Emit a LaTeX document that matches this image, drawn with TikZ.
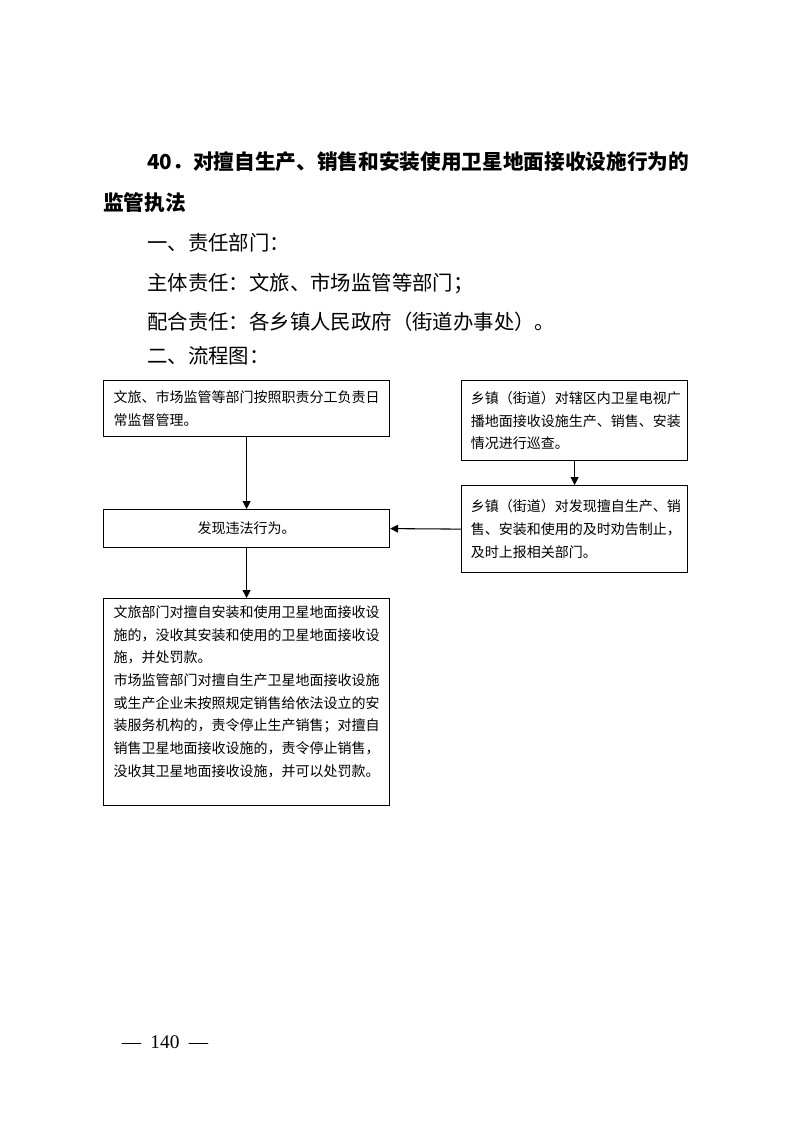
\documentclass[tikz,border=0pt]{standalone}
\usepackage{fontspec}
\setmainfont{Liberation Serif}
\newfontfamily\cjk{Noto Sans CJK SC}
\usetikzlibrary{positioning}
\usetikzlibrary{arrows.meta}

\tikzset{
  titleline/.style={anchor=west, inner sep=0pt, font=\cjk\bfseries\fontsize{15.5}{20}\selectfont},
  bodyline/.style={anchor=west, inner sep=0pt, font=\cjk\fontsize{15.3}{20}\selectfont},
  flowbox/.style={draw, line width=0.9pt, anchor=north west, align=left,
    inner xsep=7.5pt, text width=199.5pt, font=\cjk\fontsize{10.5}{17}\selectfont},
  sidebox/.style={flowbox, inner xsep=7pt, text width=155.5pt},
  flowarrow/.style={->, line width=0.8pt, >={Triangle[length=6pt,width=6pt]}}
}

\begin{document}
\begin{tikzpicture}[x=0.75pt, y=-0.75pt]

% page with its margins
\useasboundingbox (0,0) rectangle (793,1122);

% --- Heading ---
\node[titleline] (title1) at (147,162) {40．对擅自生产、销售和安装使用卫星地面接收设施行为的};
\node[titleline] (title2) at (103,203) {监管执法};

% --- Departments ---
\node[bodyline] (dept) at (147,243) {一、责任部门：};
\node[bodyline] (main) at (147,283) {主体责任：文旅、市场监管等部门；};
\node[bodyline] (assist) at (147,322) {配合责任：各乡镇人民政府（街道办事处）。};
\node[bodyline] (chart) at (147,356) {二、流程图：};

% --- Left column ---
\node[flowbox, minimum height=42pt] (daily) at (103,380)
  {文旅、市场监管等部门按照职责分工负责日\\常监督管理。};
\node[flowbox, minimum height=28.5pt, align=center] (find) at (103,509)
  {发现违法行为。};
\node[flowbox, minimum height=155.25pt] (penalty) at (103,598)
  {文旅部门对擅自安装和使用卫星地面接收设\\
   施的，没收其安装和使用的卫星地面接收设\\
   施，并处罚款。\\
   市场监管部门对擅自生产卫星地面接收设施\\
   或生产企业未按照规定销售给依法设立的安\\
   装服务机构的，责令停止生产销售；对擅自\\
   销售卫星地面接收设施的，责令停止销售，\\
   没收其卫星地面接收设施，并可以处罚款。\\
   \mbox{}};

% --- Right column ---
\node[sidebox, minimum height=60pt] (patrol) at (461,380)
  {乡镇（街道）对辖区内卫星电视广\\播地面接收设施生产、销售、安装\\情况进行巡查。};
\node[sidebox, minimum height=65.25pt] (stop) at (461,485)
  {乡镇（街道）对发现擅自生产、销\\售、安装和使用的及时劝告制止，\\及时上报相关部门。};

% --- Arrows ---
\draw[flowarrow] (daily) -- (find);
\draw[flowarrow] (patrol) -- (stop);
\draw[flowarrow] (stop.west) -- (find.east);
\draw[flowarrow] (find) -- (penalty);

% --- Page number ---
\node[inner sep=0pt, font=\fontsize{14.5}{16}\selectfont] (page) at (165,1042) {—\hspace{7pt}140\hspace{7pt}—};

\end{tikzpicture}
\end{document}
